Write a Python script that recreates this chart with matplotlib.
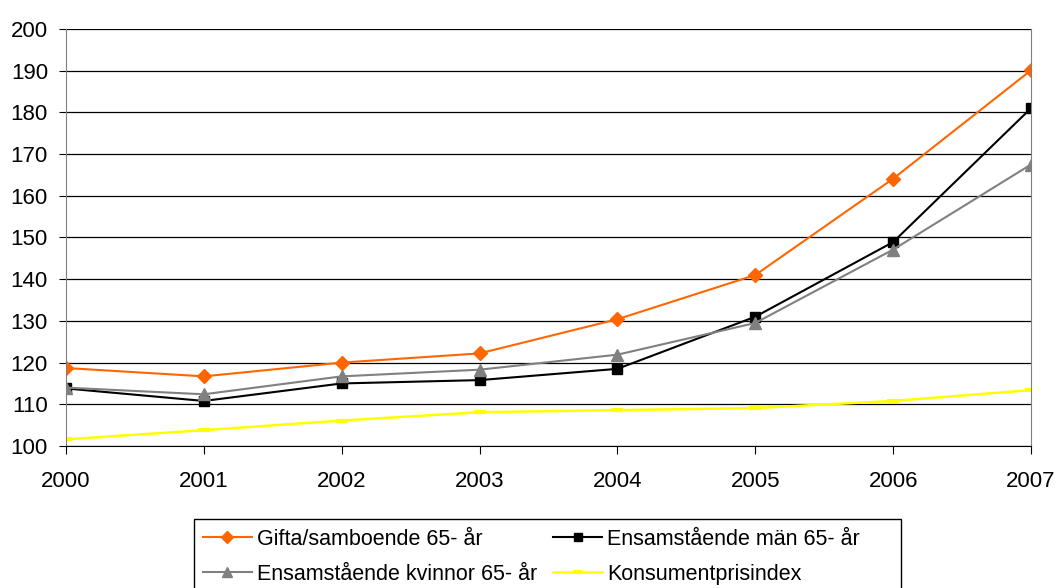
import numpy as np
import matplotlib.pyplot as plt
from matplotlib.patches import Rectangle

plt.rcParams['font.family'] = ['Liberation Sans', 'DejaVu Sans']

years = [2000, 2001, 2002, 2003, 2004, 2005, 2006, 2007]
gifta = [118.7, 116.7, 120.0, 122.2, 130.4, 141.0, 164.1, 190.1]
man = [113.8, 110.8, 115.0, 115.8, 118.5, 131.0, 148.9, 181.0]
kvinnor = [114.0, 112.4, 116.7, 118.3, 121.9, 129.5, 147.1, 167.5]
kpi = [101.6, 103.8, 106.1, 108.1, 108.6, 109.1, 110.8, 113.4]

labels = ['Gifta/samboende 65- år', 'Ensamstående män 65- år',
          'Ensamstående kvinnor 65- år', 'Konsumentprisindex']

fig = plt.figure(figsize=(10.57, 5.88), dpi=100)
ax = fig.add_axes([0.0624, 0.2415, 0.913, 0.7092])

x = np.arange(len(years))
l1, = ax.plot(x, gifta, color='#FF6600', lw=1.5, marker='D', ms=7.5)
l2, = ax.plot(x, man, color='black', lw=1.5, marker='s', ms=7.5)
l3, = ax.plot(x, kvinnor, color='#808080', lw=1.5, marker='^', ms=9)
l4, = ax.plot(x, kpi, color='#FFFF00', lw=1.8, marker='_', ms=9, mew=3)

ax.set_xlim(0, len(years) - 1)
ax.set_ylim(100, 200)
ax.set_yticks(np.arange(100, 201, 10))
ax.set_xticks(x)
ax.set_xticklabels(years)
ax.yaxis.grid(True, color='black', lw=0.9)
ax.set_axisbelow(True)
ax.tick_params(axis='both', labelsize=16, color='black')
ax.tick_params(axis='x', pad=12, length=6)
ax.tick_params(axis='y', pad=8, length=5)
for s in ['left', 'right']:
    ax.spines[s].set_color('#808080')
ax.spines['top'].set_visible(False)
ax.spines['bottom'].set_color('black')

# matplotlib fills legend columns first, so order handles to get rows as in the original
leg = fig.legend([l1, l3, l2, l4], [labels[0], labels[2], labels[1], labels[3]],
                 ncol=2, loc='upper left',
                 bbox_to_anchor=(0.192, 0.101), fontsize=15.5, frameon=False,
                 borderaxespad=0, borderpad=0, handlelength=2.28,
                 handletextpad=0.23, columnspacing=0.75, labelspacing=0.65,
                 markerscale=0.8)

# legend box, wider on the right like the original
fig.patches.append(Rectangle((194 / 1057, -0.05), (901 - 194) / 1057, 0.05 + 1 - 519 / 588,
                             transform=fig.transFigure, fill=False,
                             edgecolor='black', lw=1.0))

fig.savefig('out.png', dpi=100)
